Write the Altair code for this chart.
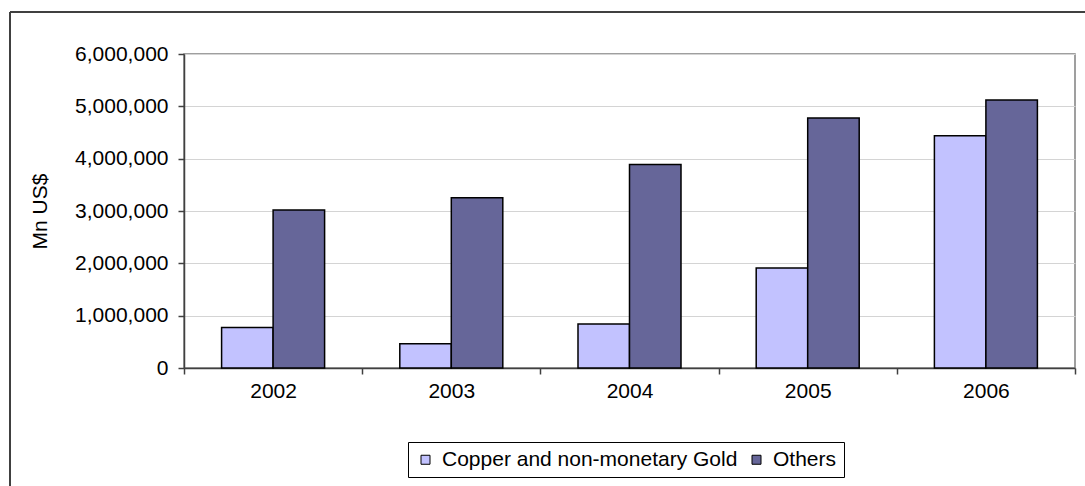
import altair as alt
import pandas as pd

# Annual values per category (Mn US$)
years = ["2002", "2003", "2004", "2005", "2006"]
copper_gold = [775000, 465000, 840000, 1910000, 4440000]
others = [3020000, 3255000, 3890000, 4775000, 5120000]

series_names = ["Copper and non-monetary Gold", "Others"]
series_colors = ["#C2C2FF", "#666699"]
y_tick_values = [0, 1000000, 2000000, 3000000, 4000000, 5000000, 6000000]

rows = []
for i, yr in enumerate(years):
    rows.append({"year": yr, "series": series_names[0], "value": copper_gold[i]})
    rows.append({"year": yr, "series": series_names[1], "value": others[i]})
df = pd.DataFrame(rows)

FONT = "Liberation Sans"
FS = 21
W, H = 891, 314
PAD = {"left": 184, "top": 54, "right": 10, "bottom": 118}

bars = alt.Chart(df).mark_bar(stroke="black", strokeWidth=1.5).encode(
    x=alt.X(
        "year:N",
        sort=years,
        title=None,
        scale=alt.Scale(paddingInner=0, paddingOuter=0),
        axis=alt.Axis(
            labelAngle=0,
            tickBand="extent",
            tickSize=6,
            tickColor="#404040",
            tickWidth=1.5,
            domainColor="#404040",
            domainWidth=1.5,
            labelFontSize=FS,
            labelColor="black",
            labelFont=FONT,
            labelPadding=6,
            grid=False,
        ),
    ),
    xOffset=alt.XOffset(
        "series:N",
        sort=series_names,
        scale=alt.Scale(paddingInner=0, paddingOuter=0.73),
    ),
    y=alt.Y(
        "value:Q",
        scale=alt.Scale(domain=[0, 6000000], nice=False),
        axis=alt.Axis(
            values=y_tick_values,
            format=",d",
            title="Mn US$",
            titleFont=FONT,
            titleFontSize=FS,
            titleFontWeight="normal",
            titleColor="black",
            titleX=-144,
            titleY=H / 2,
            titleAngle=-90,
            titleAlign="center",
            titleBaseline="middle",
            tickSize=6,
            tickColor="#404040",
            tickWidth=1.5,
            domainColor="#404040",
            domainWidth=1.5,
            labelFontSize=FS,
            labelColor="black",
            labelFont=FONT,
            labelPadding=10,
            grid=True,
            gridColor="#d4d4d4",
            gridWidth=1,
        ),
    ),
    fill=alt.Fill(
        "series:N",
        sort=series_names,
        scale=alt.Scale(domain=series_names, range=series_colors),
        legend=alt.Legend(
            orient="none",
            legendX=224,
            legendY=388,
            direction="horizontal",
            title=None,
            strokeColor="black",
            fillColor="white",
            padding=7,
            symbolType="square",
            symbolSize=81,
            symbolStrokeColor="black",
            symbolStrokeWidth=1,
            symbolOpacity=1,
            labelFont=FONT,
            labelFontSize=FS,
            labelColor="black",
            labelLimit=0,
            labelOffset=6,
            columnPadding=8,
        ),
    ),
)

# Outer frame around the whole figure (top and left edges)
frame_src = pd.DataFrame({"k": [0]})
frame_top = alt.Chart(frame_src).mark_rule(color="#404040", strokeWidth=2).encode(
    x=alt.value(-PAD["left"] + 10), x2=alt.value(W + PAD["right"]), y=alt.value(-PAD["top"] + 12)
)
frame_left = alt.Chart(frame_src).mark_rule(color="#404040", strokeWidth=2).encode(
    x=alt.value(-PAD["left"] + 10), y=alt.value(-PAD["top"] + 12), y2=alt.value(H + PAD["bottom"])
)

chart = (
    alt.layer(bars, frame_top, frame_left)
    .properties(
        width=W,
        height=H,
        padding=PAD,
        autosize=alt.AutoSizeParams(type="none"),
        background="white",
    )
    .configure_view(stroke="#808080", strokeWidth=1.5)
)

chart.save("out.html", embed_options={"renderer": "svg", "actions": False})
